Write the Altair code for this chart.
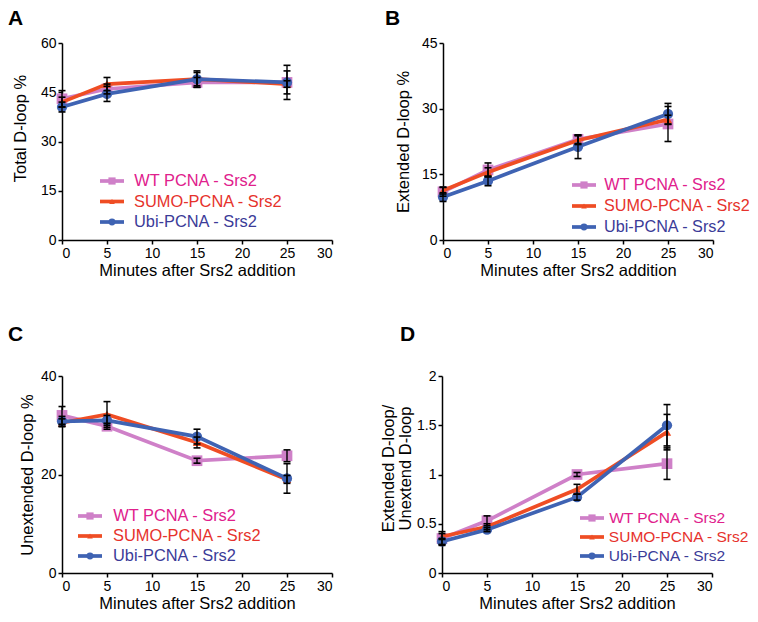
import altair as alt
import pandas as pd

minutes = [0, 5, 15, 25]
series = ["WT PCNA - Srs2", "SUMO-PCNA - Srs2", "Ubi-PCNA - Srs2"]

# Panel A: Total D-loop %
total_wt = [43, 46, 48, 48]
total_sumo = [42, 47.5, 49, 47.5]
total_ubi = [40.5, 44.5, 49, 48]
total_err_wt = [2.5, 1.5, 1.5, 3.5]
total_err_sumo = [1.5, 2, 2.5, 1]
total_err_ubi = [1.5, 2.3, 2, 5.2]

# Panel B: Extended D-loop %
ext_wt = [11, 16, 23, 26.5]
ext_sumo = [11.3, 15.5, 22.8, 27.5]
ext_ubi = [9.8, 13.5, 21.3, 28.8]
ext_err_wt = [1.0, 1.6, 1.0, 4.0]
ext_err_sumo = [0.8, 1.0, 1.0, 1.0]
ext_err_ubi = [1.0, 1.1, 2.7, 2.4]

# Panel C: Unextended D-loop %
unext_wt = [32, 29.8, 22.8, 23.8]
unext_sumo = [30.5, 32.2, 26.5, 19]
unext_ubi = [30.8, 31, 27.7, 19.2]
unext_err_wt = [1.8, 0.6, 0.5, 1.2]
unext_err_sumo = [0.8, 2.6, 1.1, 0.8]
unext_err_ubi = [1.0, 1.0, 1.5, 3.0]

# Panel D: Extended / Unextended ratio
ratio_wt = [0.35, 0.53, 1.0, 1.11]
ratio_sumo = [0.37, 0.47, 0.85, 1.43]
ratio_ubi = [0.32, 0.44, 0.77, 1.5]
ratio_err_wt = [0.07, 0.05, 0.02, 0.16]
ratio_err_sumo = [0.03, 0.03, 0.05, 0.18]
ratio_err_ubi = [0.03, 0.02, 0.03, 0.21]

x_ticks = [0, 5, 10, 15, 20, 25, 30]

line_colors = ["#cf80c8", "#ef4d24", "#3f63b3"]
text_colors = ["#e0208c", "#e6322c", "#3b3b98"]
shapes = ["square", "triangle-up", "circle"]
sizes = [115, 70, 105]
# approximate label widths in em (Arial metrics), used to right-anchor legend text
label_em = [7.556, 9.056, 7.556]

FONT = "Liberation Sans"


def make_df(vals, errs):
    rows = []
    for s, v, e in zip(series, vals, errs):
        for t, yv, ev in zip(minutes, v, e):
            rows.append({"t": t, "y": yv, "lo": yv - ev, "hi": yv + ev, "s": s})
    return pd.DataFrame(rows)


def panel(df, ymax, yticks, ytitle, letter, letter_xy, legend, title_pad,
          yfmt=None, title_y=None):
    xscale = alt.Scale(domain=[0, 30], nice=False, zero=False, padding=0)
    yscale = alt.Scale(domain=[0, ymax], nice=False, padding=0)
    xaxis = alt.Axis(values=x_ticks, title="Minutes after Srs2 addition")
    ax_kw = dict(values=yticks, title=ytitle, titlePadding=title_pad)
    if yfmt:
        ax_kw["format"] = yfmt
    if title_y is not None:
        ax_kw["titleY"] = title_y
    yaxis = alt.Axis(**ax_kw)
    X = alt.X("t:Q", scale=xscale, axis=xaxis)
    layers = []
    for i, s in enumerate(series):
        sub = df[df.s == s]
        base = alt.Chart(sub)
        layers.append(base.mark_line(strokeWidth=3.7, color=line_colors[i]).encode(
            x=X, y=alt.Y("y:Q", scale=yscale, axis=yaxis)))
        layers.append(base.mark_point(shape=shapes[i], filled=True, opacity=1,
                                      size=sizes[i], color=line_colors[i]).encode(
            x=X, y=alt.Y("y:Q", scale=yscale, axis=yaxis)))
    eb = alt.Chart(df)
    layers.append(eb.mark_rule(color="black", strokeWidth=1.4).encode(
        x=X, y=alt.Y("lo:Q", scale=yscale, axis=yaxis), y2="hi:Q"))
    for f in ["lo", "hi"]:
        layers.append(eb.mark_rule(color="black", strokeWidth=1.6, xOffset=-3.5, x2Offset=3.5).encode(
            x=X, x2="t:Q", y=alt.Y(f + ":Q", scale=yscale, axis=yaxis)))
    one = alt.Data(values=[{"a": 1}])
    lx, ly, step, tdx, fs = legend
    for i, s in enumerate(series):
        yy = ly + i * step
        layers.append(alt.Chart(one).mark_rule(color=line_colors[i], strokeWidth=3.7).encode(
            x=alt.value(lx), x2=alt.value(lx + 24), y=alt.value(yy)))
        layers.append(alt.Chart(one).mark_point(shape=shapes[i], filled=True, opacity=1,
                                                size=sizes[i] * 0.45, color=line_colors[i]).encode(
            x=alt.value(lx + 12), y=alt.value(yy)))
        right = lx + tdx + label_em[i] * fs
        layers.append(alt.Chart(one).mark_text(align="right", baseline="middle", fontSize=fs,
                                               font=FONT, color=text_colors[i], text=s).encode(
            x=alt.value(right), y=alt.value(yy)))
    layers.append(alt.Chart(one).mark_text(align="left", baseline="top", fontSize=21,
                                           fontWeight="bold", font=FONT, color="black",
                                           text=letter).encode(
        x=alt.value(letter_xy[0]), y=alt.value(letter_xy[1])))
    return alt.layer(*layers).properties(width=270, height=197)


pA = panel(make_df([total_wt, total_sumo, total_ubi], [total_err_wt, total_err_sumo, total_err_ubi]),
           60, [0, 15, 30, 45, 60], "Total D-loop %", "A", (-54, -35),
           (38, 138, 20.5, 33, 16.4), 12, title_y=85)
pB = panel(make_df([ext_wt, ext_sumo, ext_ubi], [ext_err_wt, ext_err_sumo, ext_err_ubi]),
           45, [0, 15, 30, 45], "Extended D-loop %", "B", (-58, -35),
           (129, 142, 21, 31, 16.2), 10)
pC = panel(make_df([unext_wt, unext_sumo, unext_ubi], [unext_err_wt, unext_err_sumo, unext_err_ubi]),
           40, [0, 20, 40], "Unextended D-loop %", "C", (-54, -52),
           (16, 140, 20, 34, 16.4), 5)
pD = panel(make_df([ratio_wt, ratio_sumo, ratio_ubi], [ratio_err_wt, ratio_err_sumo, ratio_err_ubi]),
           2, [0, 0.5, 1, 1.5, 2], ["Extended D-loop/", "Unextend D-loop"], "D", (-42, -52),
           (138, 142, 19, 28, 15.5), 3, yfmt=".1~f", title_y=92)

row1 = alt.hconcat(pA, pB, spacing=111, bounds="flush")
row2 = alt.hconcat(pC, pD, spacing=110, bounds="flush")

chart = alt.vconcat(row1, row2, spacing=45).properties(
    padding=0
).configure_view(stroke=None).configure_axis(
    grid=False, domainColor="black", domainWidth=1.5, tickColor="black", tickWidth=1.5,
    tickSize=4, labelFont=FONT, labelFontSize=14, labelColor="black", labelPadding=2,
    titleFont=FONT, titleFontSize=16.5, titleFontWeight="normal", titleColor="black",
    titleLineHeight=17,
).configure_axisX(titlePadding=2)

chart.save("out.html", embed_options={"renderer": "svg", "actions": False})
